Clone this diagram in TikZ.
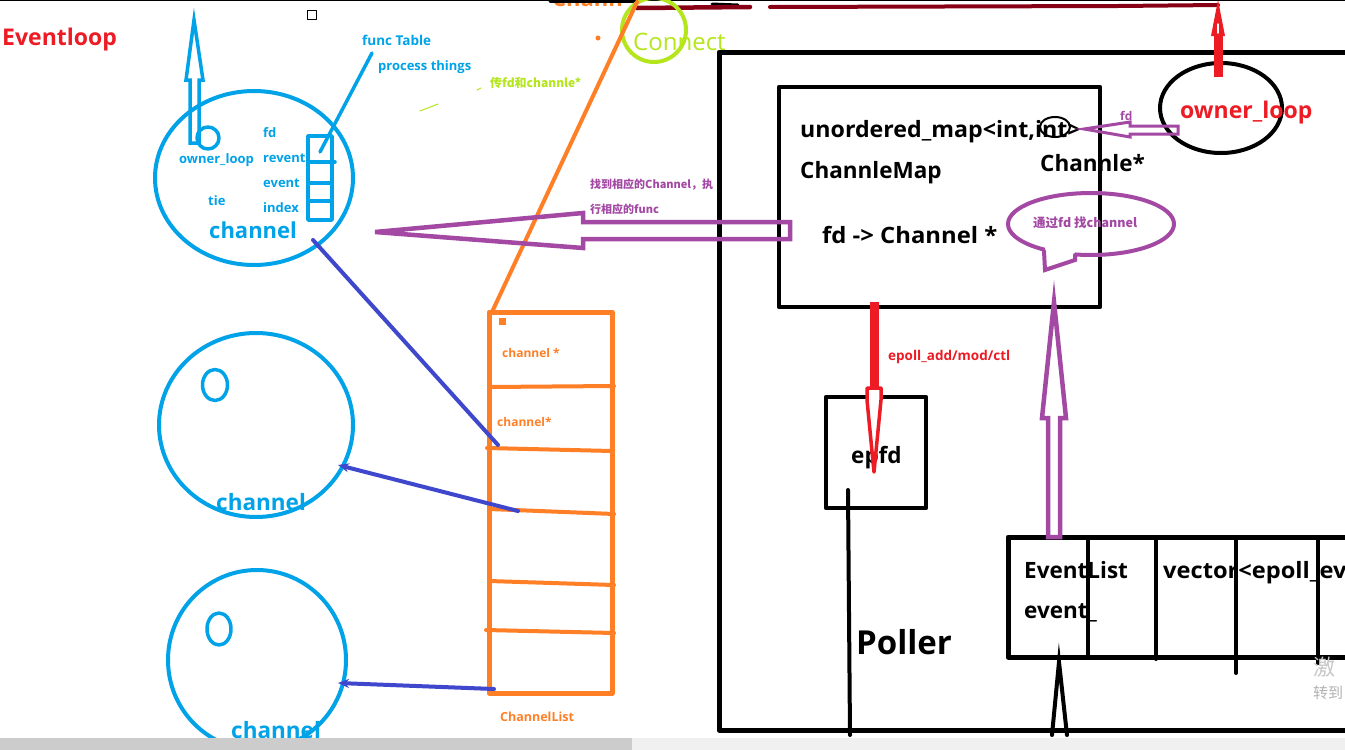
\documentclass[tikz,border=0pt]{standalone}
\usepackage{fontspec}
\setmainfont{Open Sans}
\newfontfamily\cjk{Noto Sans CJK SC}
\usetikzlibrary{arrows.meta,shapes.geometric}
\definecolor{cblue}{HTML}{00A2E8}
\definecolor{cred}{HTML}{ED1C24}
\definecolor{cpurple}{HTML}{A349A4}
\definecolor{corange}{HTML}{FF7F27}
\definecolor{clime}{HTML}{B5E61D}
\definecolor{cindigo}{HTML}{3F48CC}
\definecolor{cdarkred}{HTML}{880015}
\newcommand\fsz[1]{\fontsize{#1}{#1}\selectfont}
\tikzset{
  lab/.style={inner sep=0pt, anchor=base west},
  blk/.style={draw=black, line width=5pt},
  blueline/.style={draw=cblue, line width=4pt},
  indline/.style={draw=cindigo, line width=4pt},
  indarrow/.style={indline, -{Stealth[length=11pt,width=9pt]}},
  hollowpurple/.style={draw=cpurple, line width=4.5pt, line join=miter},
}
\begin{document}
\begin{tikzpicture}[x=1pt,y=-1pt, line cap=round, line join=round]
\useasboundingbox (0,0) rectangle (1345,750);
\fill[white] (0,0) rectangle (1345,750);
\begin{scope}
\clip (0,0) rectangle (1345,750);

% ---- top strip
\draw[black, line width=1.5pt] (0,0.5) -- (1345,0.5);
\node[lab, text=corange, font=\bfseries\fsz{22}] (chtop) at (552,6) {Chann};
\draw[black, line width=3pt] (550,1) -- (640,1);
\draw[black, line width=3pt] (712,4) -- (738,5);
\draw[cdarkred, line width=4.5pt] (637,8) -- (750,7);
\draw[cdarkred, line width=4pt] (770,7) -- (1118,6) -- (1218,5);

% ---- Eventloop title
\node[lab, text=cred, font=\bfseries\fsz{23}] (title) at (2,45) {Eventloop};
\draw[black, line width=1pt] (307,10) rectangle (316,19);

% ---- main channel ellipse
\node[ellipse, blueline, minimum width=198pt, minimum height=174pt, inner sep=0pt] (ch1) at (254,178) {};
\node[circle, blueline, line width=3.5pt, minimum size=22pt, inner sep=0pt] (own) at (208,138) {};
\coordinate (up1) at (194,143);
\coordinate (up2) at (194,20);
\draw[cblue, line width=3.5pt, line join=miter] (up1) ++(-4,0) -- ++(0,-63) -- ++(-4,0) -- (up2) -- ++(9,60) -- ++(-4,0) -- ++(0,63) -- cycle;
\node[lab, text=cblue, font=\bfseries\fsz{13}] (lown) at (179,163) {owner\_loop};
\node[lab, text=cblue, font=\bfseries\fsz{13}] (lfd) at (263,137) {fd};
\node[lab, text=cblue, font=\bfseries\fsz{13}] (lrev) at (263,162) {revent};
\node[lab, text=cblue, font=\bfseries\fsz{13}] (lev) at (263,187) {event};
\node[lab, text=cblue, font=\bfseries\fsz{13}] (lidx) at (263,212) {index};
\node[lab, text=cblue, font=\bfseries\fsz{13}] (ltie) at (208,205) {tie};
\node[lab, text=cblue, font=\bfseries\fsz{22}] (lch1) at (209,238) {channel};
% func table
\node[draw=cblue, line width=3.5pt, minimum width=24pt, minimum height=84pt, inner sep=0pt] (ftab) at (320,178) {};
\draw[cblue, line width=3.5pt] (308,162) -- (335,162);
\draw[cblue, line width=3.5pt] (308,183) -- (332,183);
\draw[cblue, line width=3.5pt] (308,201) -- (332,201);
\coordinate (ft1) at (320,152);
\coordinate (ft2) at (372,53);
\draw[cblue, line width=3.5pt] (ft1) -- (ft2);
\node[lab, text=cblue, font=\bfseries\fsz{13.5}] (lfunc) at (362,45) {func Table};
\node[lab, text=cblue, font=\bfseries\fsz{13}] (lproc) at (378,70) {process things};

% ---- lower channel circles
\node[ellipse, blueline, minimum width=194pt, minimum height=184pt, inner sep=0pt] (ch2) at (256,425) {};
\node[ellipse, blueline, line width=3.5pt, minimum width=25pt, minimum height=31pt, inner sep=0pt] (o2) at (215,385) {};
\node[lab, text=cblue, font=\bfseries\fsz{22.5}] (lch2) at (216,510) {channel};
\node[ellipse, blueline, minimum width=178pt, minimum height=180pt, inner sep=0pt] (ch3) at (257,660) {};
\node[ellipse, blueline, line width=3.5pt, minimum width=24pt, minimum height=32pt, inner sep=0pt] (o3) at (219,629) {};
\node[lab, text=cblue, font=\bfseries\fsz{22.5}] (lch3) at (231,738) {channel};

% ---- Connect
\node[circle, draw=clime, line width=4pt, minimum size=64pt, inner sep=0pt] (conn) at (654,30) {};
\node[lab, text=clime, font=\fsz{24}] (lconn) at (633,50) {Connect};
\node[lab, text=clime, font=\cjk\bfseries\fsz{12}] (lpass) at (490,87) {传fd和channle*};
\draw[clime, line width=1pt] (420,111) -- (438,104);
\draw[clime, line width=1pt] (477,90) -- (481,88);

% ---- ChannelList
\node[draw=corange, line width=5pt, minimum width=123pt, minimum height=381pt, inner sep=0pt] (clist) at (550.5,502.5) {};
\draw[corange, line width=4pt] (489,387) -- (614,386);
\draw[corange, line width=4pt] (487,448) -- (612,451);
\draw[corange, line width=4pt] (489,509) -- (614,514);
\draw[corange, line width=4pt] (489,581) -- (614,585);
\draw[corange, line width=4pt] (486,630) -- (614,633);
\fill[corange] (499,318) rectangle (506,325);
\node[lab, text=corange, font=\bfseries\fsz{12}] (lc1) at (502,357) {channel *};
\node[lab, text=corange, font=\bfseries\fsz{12}] (lc2) at (497,426) {channel*};
\node[lab, text=corange, font=\bfseries\fsz{12.5}] (lclist) at (500,721) {ChannelList};
\coordinate (oc1) at (492,312);
\coordinate (oc2) at (637,2);
\draw[corange, line width=4pt] (oc1) -- (oc2);
\fill[corange] (598,38) circle (2.5);

% ---- list -> channel connectors
\coordinate (r1) at (498,445);
\coordinate (e1) at (313,240);
\draw[indline] (r1) -- (e1);
\coordinate (r2) at (518,511);
\coordinate (e2) at (338,465);
\draw[indarrow] (r2) -- (e2);
\coordinate (r3) at (494,689);
\coordinate (e3) at (338,683);
\draw[indarrow] (r3) -- (e3);

% ---- Poller frame
\draw[blk] (1345,52) -- (719,52) -- (719,730) -- (1345,730);
\node[blk, line width=4.5pt, minimum width=321pt, minimum height=220pt, inner sep=0pt] (cmap) at (939.5,197) {};
\node[lab, font=\bfseries\fsz{22.5}] (lmap) at (800,137) {\scalebox{1.03}[1]{unordered\_map<int,int>}};
\node[lab, font=\bfseries\fsz{22.5}] (lcm) at (800,178) {ChannleMap};
\node[lab, font=\bfseries\fsz{22.5}] (lfdch) at (822,243) {\scalebox{1.06}[1]{fd -> Channel *}};
\node[lab, font=\bfseries\fsz{22.5}] (lchp) at (1040,171) {Channle*};
\node[ellipse, draw=black, line width=2pt, minimum width=30pt, minimum height=20pt, inner sep=0pt] (scrib) at (1055,127) {};

% owner_loop
\node[ellipse, draw=black, line width=4pt, minimum width=122pt, minimum height=90pt, inner sep=0pt] (oloop) at (1221,108) {};
\node[lab, text=cred, font=\bfseries\fsz{23}] (loloop) at (1180,118) {owner\_loop};
\coordinate (ra1) at (1218,77);
\coordinate (ra2) at (1218,0);
\draw[cred, line width=9pt, line cap=butt] (ra1) -- (1218,34);
\fill[cred] (1211,36) -- (ra2) -- (1225,36) -- cycle;
\draw[white, line width=1.5pt] (1218,24) -- (1218,33);

% fd small arrow
\coordinate (fa1) at (1178,130);
\coordinate (fa2) at (1084,129);
\draw[cpurple, line width=3pt, line join=miter] (fa1) ++(0,-4) -- ++(-48,0) -- ++(0,-4) -- (fa2) -- ++(46,8) -- ++(0,-3) -- ++(48,0) -- cycle;
\node[lab, text=cpurple, font=\bfseries\fsz{12}] (lfdsm) at (1120,120) {fd};

% speech bubble
\node[ellipse, draw=cpurple, line width=4pt, minimum width=166pt, minimum height=62pt, inner sep=0pt] (bub) at (1091,224) {};
\fill[white] (1045,246) -- (1045,270) -- (1075,260) -- (1075,250) -- cycle;
\draw[cpurple, line width=4pt, line join=miter] (1044,251) -- (1045,270) -- (1075,260) -- (1075,255);
\node[lab, text=cpurple, font=\cjk\bfseries\fsz{12.5}] (lbub) at (1033,227) {通过fd 找channel};

% big purple left arrow
\coordinate (pb1) at (790,231);
\coordinate (pb2) at (375,232);
\draw[hollowpurple] (pb1) ++(0,-9) -- ++(-207,0) -- ++(0,-9) -- (pb2) -- ++(208,16) -- ++(0,-9) -- ++(207,0) -- cycle;
\node[lab, text=cpurple, font=\cjk\bfseries\fsz{11}] (lfind1) at (590,188) {找到相应的Channel，执};
\node[lab, text=cpurple, font=\cjk\bfseries\fsz{11}] (lfind2) at (590,213) {行相应的func};

% epfd
\node[blk, line width=4.5pt, minimum width=100pt, minimum height=111pt, inner sep=0pt] (epfd) at (876,452.5) {};
\node[lab, font=\bfseries\fsz{22.5}] (lepfd) at (851,463) {epfd};
\coordinate (ea1) at (874,302);
\coordinate (ea2) at (874,472);
\draw[cred, line width=9pt, line cap=butt] (ea1) -- (874,390);
\draw[cred, line width=3.5pt, fill=white, line join=round] (867,388) -- (867,400) -- (ea2) -- (881,400) -- (881,388) -- cycle;
\node[lab, text=cred, font=\bfseries\fsz{13.5}] (lepoll) at (888,360) {epoll\_add/mod/ctl};
\coordinate (pl1) at (848,490);
\coordinate (pl2) at (850,735);
\draw[black, line width=4pt] (pl1) -- (pl2);
\node[lab, font=\bfseries\fsz{33}] (lpoller) at (856,654) {Poller};

% EventList
\draw[blk] (1345,537) -- (1008,537) -- (1008,657) -- (1345,657);
\draw[black, line width=3.5pt] (1088,537) -- (1088,655);
\draw[black, line width=4pt] (1156,537) -- (1156,659);
\draw[black, line width=4pt] (1236,537) -- (1236,673);
\draw[black, line width=4pt] (1318,537) -- (1318,663);
\node[lab, font=\bfseries\fsz{22.5}] (levl) at (1024,578) {EventList};
\node[lab, font=\bfseries\fsz{22.5}] (levt) at (1024,618) {event\_};
\node[lab, font=\bfseries\fsz{22.5}] (lvec) at (1163,578) {\scalebox{1.05}[1]{vector<epoll\_ev}};

% purple up arrow
\coordinate (pa1) at (1054,537);
\coordinate (pa2) at (1054,302);
\draw[hollowpurple] (pa1) ++(-6,0) -- ++(0,-119) -- ++(-6,0) -- (pa2) -- ++(12,116) -- ++(-6,0) -- ++(0,119) -- cycle;

% black bottom arrow
\coordinate (ba) at (1059,662);
\draw[black, line width=4pt, line join=miter] (1052,735) -- (ba) -- (1067,735);

% watermark
\node[lab, text=black!22, font=\cjk\fsz{22}] (wm1) at (1313,675) {激};
\node[lab, text=black!30, font=\cjk\fsz{15}] (wm2) at (1313,698) {转到};

% bottom bar
\fill[black!20] (0,738) rectangle (632,750);
\fill[black!6] (632,738) rectangle (1345,750);
\end{scope}
\end{tikzpicture}
\end{document}
